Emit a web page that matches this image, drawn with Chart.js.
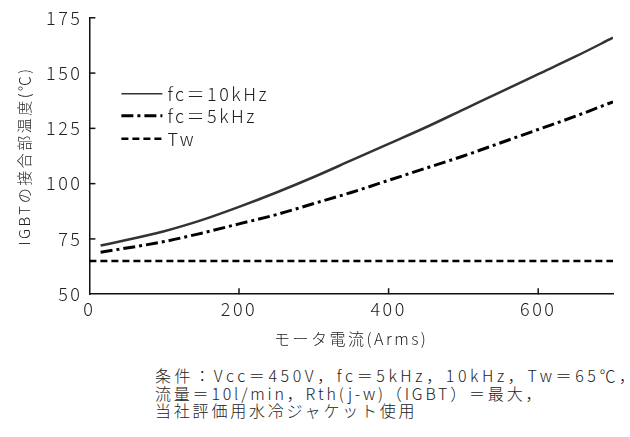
<!DOCTYPE html>
<html>
<head>
<meta charset="utf-8">
<script src="https://cdn.jsdelivr.net/npm/chart.js@4/dist/chart.umd.min.js"></script>
<style>
  body { margin: 0; background: #fff; }
  #wrap { position: relative; width: 630px; height: 437px; }
  #note {
    position: absolute; left: 155px; top: 367px; white-space: nowrap;
    font-family: "Noto Sans CJK JP", sans-serif; font-size: 16px; font-weight: 300;
    letter-spacing: 2.8px; line-height: 17.5px; color: #222;
  }
  #note .wide { letter-spacing: 3.6px; }
</style>
</head>
<body>
<div id="wrap">
  <canvas id="chartCanvas" width="630" height="353"></canvas>
  <div id="note">
    <span class="wide">条件：Vcc＝450V，fc＝5kHz，10kHz，Tw＝65℃，</span><br>
    流量＝10l/min，Rth(j-w)（IGBT）＝最大，<br>
    当社評価用水冷ジャケット使用
  </div>
</div>
<script>
// モータ電流 (Arms)
const current = [15, 100, 150, 200, 250, 300, 350, 400, 450, 500, 550, 600, 650, 700];
const fc10 = [72, 78.5, 83.5, 89.5, 96, 103, 110.5, 118, 125.5, 133.5, 141.5, 149.5, 157.5, 166];
const fc5 = [69, 73.8, 77.6, 81.8, 86, 91, 96, 101.5, 107, 112.5, 118.5, 124.5, 130.5, 137];
const twCurrent = [0, 700];
const twTemp = [65, 65];
const seriesLabels = ['fc＝10kHz', 'fc＝5kHz', 'Tw'];

const font = "'Noto Sans CJK JP', sans-serif";
const toXY = (xs, ys) => xs.map((x, i) => ({ x: x, y: ys[i] }));

// the original uses a wide gothic face, fake it with letter spacing
const spacing = {
  id: 'spacing',
  beforeUpdate(chart) { chart.ctx.letterSpacing = '2.5px'; },
  beforeDraw(chart) { chart.ctx.letterSpacing = '2.5px'; }
};

// inward tick marks + legend in the plot area
const decor = {
  id: 'decor',
  afterDraw(chart) {
    const ctx = chart.ctx;
    const a = chart.chartArea;
    const xs = chart.scales.x, ys = chart.scales.y;
    ctx.save();
    ctx.strokeStyle = '#111';
    ctx.lineWidth = 1.5;
    xs.ticks.forEach(t => {
      if (t.value === xs.min) return;
      const px = xs.getPixelForValue(t.value);
      ctx.beginPath(); ctx.moveTo(px, a.bottom); ctx.lineTo(px, a.bottom - 6); ctx.stroke();
    });
    ys.ticks.forEach(t => {
      if (t.value === ys.min) return;
      const py = ys.getPixelForValue(t.value);
      ctx.beginPath(); ctx.moveTo(a.left, py); ctx.lineTo(a.left + 6, py); ctx.stroke();
    });
    // legend
    const rows = [76, 98, 121];
    chart.data.datasets.forEach((ds, i) => {
      const y = a.top + rows[i];
      ctx.beginPath();
      ctx.strokeStyle = ds.borderColor;
      ctx.lineWidth = i === 0 ? 1.5 : ds.borderWidth;
      ctx.setLineDash(ds.borderDash || []);
      ctx.moveTo(a.left + 32, y); ctx.lineTo(a.left + 73, y);
      ctx.stroke();
      ctx.setLineDash([]);
      ctx.fillStyle = '#222';
      ctx.font = '300 18px ' + font;
      ctx.textBaseline = 'middle';
      ctx.fillText(ds.label, a.left + 78, y);
    });
    ctx.restore();
  }
};

new Chart(document.getElementById('chartCanvas').getContext('2d'), {
  type: 'line',
  data: {
    datasets: [{
      label: seriesLabels[0],
      data: toXY(current, fc10),
      borderColor: '#333',
      borderWidth: 2.5,
      pointRadius: 0,
      cubicInterpolationMode: 'monotone'
    }, {
      label: seriesLabels[1],
      data: toXY(current, fc5),
      borderColor: '#000',
      borderWidth: 3,
      borderDash: [12, 4, 3, 4],
      pointRadius: 0,
      cubicInterpolationMode: 'monotone'
    }, {
      label: seriesLabels[2],
      data: toXY(twCurrent, twTemp),
      borderColor: '#000',
      borderWidth: 2.5,
      borderDash: [7, 4],
      pointRadius: 0
    }]
  },
  options: {
    responsive: false,
    animation: false,
    layout: { padding: { left: 11, top: 17, right: 17, bottom: 0 } },
    plugins: { legend: { display: false }, tooltip: { enabled: false } },
    scales: {
      x: {
        type: 'linear',
        min: 0, max: 700,
        grid: { display: false, drawTicks: false },
        border: { color: '#111', width: 1.5 },
        ticks: { stepSize: 200, includeBounds: false, padding: 4, color: '#222', font: { family: font, size: 18, weight: 300 } },
        title: { display: true, text: 'モータ電流(Arms)', color: '#222', padding: { top: 6 }, font: { family: font, size: 16, weight: 300 } }
      },
      y: {
        min: 50, max: 175,
        grid: { display: false, drawTicks: false },
        border: { color: '#111', width: 1.5 },
        ticks: { stepSize: 25, padding: 7, color: '#222', font: { family: font, size: 18, weight: 300 } },
        title: { display: true, text: 'IGBTの接合部温度(℃)', color: '#222', padding: { bottom: 6 }, font: { family: font, size: 15, weight: 300 } }
      }
    }
  },
  plugins: [spacing, decor]
});
</script>
</body>
</html>
